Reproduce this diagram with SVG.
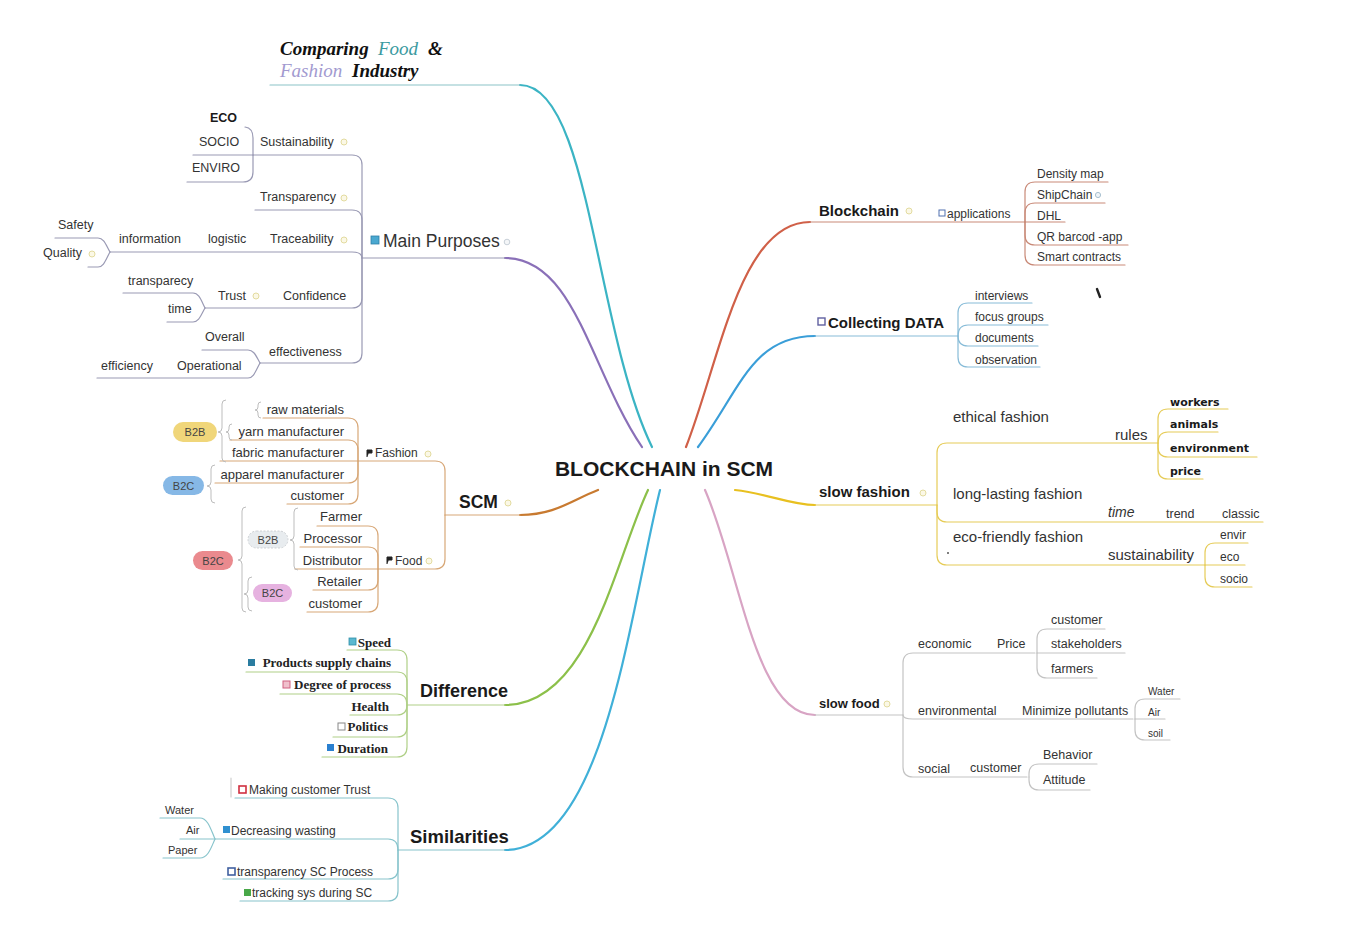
<svg xmlns="http://www.w3.org/2000/svg" width="1347" height="948" viewBox="0 0 1347 948">
  <style>
    .t { font-family: "Liberation Sans", Arial, sans-serif; fill: #333; }
    .b { font-weight: bold; fill: #1a1a1a; }
    .s { font-family: "Liberation Serif", "Times New Roman", serif; font-weight: bold; fill: #222; font-size: 13px; }
    .k { font-family: "DejaVu Sans", Verdana, sans-serif; font-weight: bold; fill: #1a1a1a; font-size: 11px; }
    .ttl { font-family: "Liberation Serif", "Times New Roman", serif; font-style: italic; font-size: 19px; }
    .ln { fill: none; stroke-width: 1.2; stroke-linecap: round; stroke-linejoin: round; }
    .cv { fill: none; stroke-width: 2.2; stroke-linecap: round; }
    .brace { fill: none; stroke: #bdbdbd; stroke-width: 1; }
    .note { fill: #fbf8e6; stroke: #e3dba0; stroke-width: 1; }
    .pill { stroke: none; }
    .pt { font-family: "Liberation Sans", Arial, sans-serif; font-size: 11px; fill: #444; text-anchor: middle; }
  </style>

  <rect width="1347" height="948" fill="#ffffff"/>

  <!-- connectors -->
  <g id="connectors">
    <!-- main branches from the central topic -->
    <g class="cv">
      <path d="M520,85 C590,85 595,330 652,447" stroke="#3bb4c4"/>
      <path d="M505,258 C575,258 590,370 642,447" stroke="#8a70b8"/>
      <path d="M520,515 C555,515 572,500 598,490" stroke="#c87a30"/>
      <path d="M505,705 C590,705 615,560 648,490" stroke="#8cc04a"/>
      <path d="M505,850 C605,850 630,610 660,490" stroke="#40b0d8"/>
      <path d="M686,447 C720,360 740,222 810,222" stroke="#d06048"/>
      <path d="M698,447 C740,390 752,336 815,336" stroke="#3a9ed8"/>
      <path d="M735,490 C770,494 790,505 815,505" stroke="#e8c020"/>
      <path d="M705,490 C740,570 755,715 815,715" stroke="#d8a4c4"/>
    </g>

    <!-- title underline -->
    <path class="ln" d="M270,85 H520" stroke="#8cc4c8"/>

    <!-- Main Purposes -->
    <g class="ln" stroke="#9a9ab4">
      <path d="M362,258 H505"/>
      <path d="M362,258 V165 Q362,155 352,155 H253"/>
      <path d="M362,258 V220 Q362,210 352,210 H255"/>
      <path d="M362,258 Q362,252 352,252 H110"/>
      <path d="M362,258 V298 Q362,308 352,308 H205"/>
      <path d="M362,258 V353 Q362,363 352,363 H260"/>
      <path d="M253,155 V138 Q253,128 245,127"/>
      <path d="M253,155 H193"/>
      <path d="M253,155 V172 Q253,182 243,182 H187"/>
      <path d="M110,252 C106,245 104,238 98,238 H55"/>
      <path d="M110,252 C106,259 104,267 98,267 H88"/>
      <path d="M205,308 C201,300 199,293 193,293 H123"/>
      <path d="M205,308 C201,315 199,322 193,322 H167"/>
      <path d="M260,363 C256,356 254,350 248,350 H202"/>
      <path d="M260,363 C256,370 254,378 248,378 H97"/>
    </g>

    <!-- SCM -->
    <g class="ln" stroke="#d8a878">
      <path d="M445,515 H520"/>
      <path d="M445,515 V471 Q445,461 435,461 H358"/>
      <path d="M445,515 V559 Q445,569 435,569 H378"/>
      <path d="M358,461 V428 Q358,418 348,418 H263"/>
      <path d="M358,461 V450 Q358,440 348,440 H230"/>
      <path d="M358,461 H220"/>
      <path d="M358,461 V473 Q358,483 348,483 H215"/>
      <path d="M358,461 V494 Q358,504 348,504 H287"/>
      <path d="M378,569 V536 Q378,526 368,526 H317"/>
      <path d="M378,569 V557 Q378,547 368,547 H300"/>
      <path d="M378,569 H295"/>
      <path d="M378,569 V580 Q378,590 368,590 H313"/>
      <path d="M378,569 V602 Q378,612 368,612 H307"/>
    </g>

    <!-- Difference -->
    <g class="ln" stroke="#b0d088">
      <path d="M407,705 H505"/>
      <path d="M407,705 V660 Q407,650 397,650 H347"/>
      <path d="M407,705 V682 Q407,672 397,672 H246"/>
      <path d="M407,705 Q407,694 397,694 H280"/>
      <path d="M407,705 Q407,715 397,715 H350"/>
      <path d="M407,705 V727 Q407,737 397,737 H333"/>
      <path d="M407,705 V747 Q407,757 397,757 H322"/>
    </g>

    <!-- Similarities -->
    <g class="ln" stroke="#88c4cc">
      <path d="M398,850 H505"/>
      <path d="M398,850 V808 Q398,798 388,798 H235"/>
      <path d="M398,850 Q398,839 388,839 H180"/>
      <path d="M398,850 V869 Q398,879 388,879 H223"/>
      <path d="M398,850 V891 Q398,901 388,901 H240"/>
      <path d="M215,839 C211,830 208,818 200,818 H160"/>
      <path d="M215,839 C211,848 208,858 200,858 H163"/>
      <path d="M231,778 V797" stroke="#cfcfcf"/>
    </g>

    <!-- Blockchain -->
    <g class="ln" stroke="#c98a78">
      <path d="M810,222 H1025"/>
      <path d="M1025,222 V192 Q1025,182 1035,182 H1108"/>
      <path d="M1025,222 V213 Q1025,203 1035,203 H1105"/>
      <path d="M1025,222 H1065"/>
      <path d="M1025,222 V235 Q1025,245 1035,245 H1128"/>
      <path d="M1025,222 V255 Q1025,265 1035,265 H1125"/>
    </g>

    <!-- Collecting DATA -->
    <g class="ln" stroke="#88bcd8">
      <path d="M815,336 H958"/>
      <path d="M958,336 V313 Q958,303 968,303 H1032"/>
      <path d="M958,336 Q958,325 968,325 H1048"/>
      <path d="M958,336 Q958,346 968,346 H1038"/>
      <path d="M958,336 V357 Q958,367 968,367 H1040"/>
    </g>

    <!-- slow fashion -->
    <g class="ln" stroke="#e6cc58">
      <path d="M815,505 H937"/>
      <path d="M937,505 V453 Q937,443 947,443 H1158"/>
      <path d="M937,505 V512 Q937,522 947,522 H1263"/>
      <path d="M937,505 V555 Q937,565 947,565 H1205"/>
      <path d="M1158,443 V419 Q1158,409 1168,409 H1228"/>
      <path d="M1158,443 Q1158,432 1168,432 H1218"/>
      <path d="M1158,443 V447 Q1158,457 1168,457 H1257"/>
      <path d="M1158,443 V469 Q1158,479 1168,479 H1203"/>
      <path d="M1205,565 V553 Q1205,543 1215,543 H1248"/>
      <path d="M1205,565 H1245"/>
      <path d="M1205,565 V577 Q1205,587 1215,587 H1252"/>
    </g>

    <!-- slow food -->
    <g class="ln" stroke="#c4c4c4">
      <path d="M815,715 H903"/>
      <path d="M903,715 V663 Q903,653 913,653 H1035"/>
      <path d="M903,715 Q903,719 913,719 H1133"/>
      <path d="M903,715 V767 Q903,777 913,777 H1027"/>
      <path d="M1037,653 V639 Q1037,629 1047,629 H1105"/>
      <path d="M1037,653 H1125"/>
      <path d="M1037,653 V668 Q1037,678 1047,678 H1097"/>
      <path d="M1135,719 V709 Q1135,699 1145,699 H1180"/>
      <path d="M1135,719 H1165"/>
      <path d="M1135,719 V730 Q1135,740 1145,740 H1170"/>
      <path d="M1029,777 V774 Q1029,764 1039,764 H1097"/>
      <path d="M1029,777 V780 Q1029,790 1039,790 H1090"/>
    </g>
  </g>

  <!-- central topic -->
  <g id="central">
    <text class="t b" x="664" y="476" font-size="21" text-anchor="middle">BLOCKCHAIN in SCM</text>
  </g>

  <!-- title -->
  <g id="title">
    <text class="ttl" y="55"><tspan x="280" font-weight="bold" fill="#111">Comparing</tspan><tspan x="378" fill="#3a9aa0">Food</tspan><tspan x="428" font-weight="bold" fill="#111">&amp;</tspan></text>
    <text class="ttl" y="77"><tspan x="280" fill="#a29ad0">Fashion</tspan><tspan x="352" font-weight="bold" fill="#111">Industry</tspan></text>
  </g>

  <!-- Main Purposes -->
  <g id="main-purposes">
    <rect x="371" y="236" width="8" height="8" fill="#4aa8d0" stroke="#2f7fa8" stroke-width="0.8"/>
    <text class="t" x="383" y="247" font-size="17.5" fill="#2a2a2a">Main Purposes</text>
    <circle cx="507" cy="242" r="2.8" fill="#f4f6f8" stroke="#c8d0d8"/>
    <g font-size="12.5">
      <text class="t b" x="210" y="122">ECO</text>
      <text class="t" x="199" y="146">SOCIO</text>
      <text class="t" x="192" y="172">ENVIRO</text>
      <text class="t" x="260" y="146">Sustainability</text>
      <text class="t" x="260" y="201">Transparency</text>
      <text class="t" x="270" y="243">Traceability</text>
      <text class="t" x="208" y="243">logistic</text>
      <text class="t" x="119" y="243">information</text>
      <text class="t" x="58" y="229">Safety</text>
      <text class="t" x="43" y="257">Quality</text>
      <text class="t" x="283" y="300">Confidence</text>
      <text class="t" x="218" y="300">Trust</text>
      <text class="t" x="128" y="285">transparecy</text>
      <text class="t" x="168" y="313">time</text>
      <text class="t" x="269" y="356">effectiveness</text>
      <text class="t" x="205" y="341">Overall</text>
      <text class="t" x="177" y="370">Operational</text>
      <text class="t" x="101" y="370">efficiency</text>
    </g>
    <circle class="note" cx="344" cy="142" r="3"/>
    <circle class="note" cx="344" cy="198" r="3"/>
    <circle class="note" cx="344" cy="240" r="3"/>
    <circle class="note" cx="92" cy="254" r="3"/>
    <circle class="note" cx="256" cy="296" r="3"/>
  </g>

  <!-- SCM -->
  <g id="scm">
    <text class="t b" x="459" y="508" font-size="17.5">SCM</text>
    <circle class="note" cx="508" cy="503" r="3"/>

    <path d="M367,457 V450 H372 V453 H369" fill="#222" stroke="#222" stroke-width="1"/>
    <text class="t" x="375" y="457" font-size="12">Fashion</text>
    <circle class="note" cx="428" cy="454" r="3"/>
    <g font-size="13" text-anchor="end">
      <text class="t" x="344" y="414">raw materials</text>
      <text class="t" x="344" y="436">yarn manufacturer</text>
      <text class="t" x="344" y="457">fabric manufacturer</text>
      <text class="t" x="344" y="479">apparel manufacturer</text>
      <text class="t" x="344" y="500">customer</text>
    </g>

    <path d="M387,564 V557 H392 V560 H389" fill="#222" stroke="#222" stroke-width="1"/>
    <text class="t" x="395" y="565" font-size="12" fill="#3d8c96">Food</text>
    <circle class="note" cx="429" cy="561" r="3"/>
    <g font-size="13" text-anchor="end">
      <text class="t" x="362" y="521" fill="#3d8c96">Farmer</text>
      <text class="t" x="362" y="543" fill="#3d8c96">Processor</text>
      <text class="t" x="362" y="565" fill="#3d8c96">Distributor</text>
      <text class="t" x="362" y="586" fill="#3d8c96">Retailer</text>
      <text class="t" x="362" y="608" fill="#3d8c96">customer</text>
    </g>

    <!-- grouping braces -->
    <path class="brace" d="M226,400 Q222,400 222,404 V428 Q222,432 218,432 Q222,432 222,436 V458 Q222,462 226,462"/>
    <path class="brace" d="M232,424 Q229,424 229,427 V429 Q229,432 226,432 Q229,432 229,435 V437 Q229,440 232,440"/>
    <path class="brace" d="M261,402 Q258,402 258,405 V407 Q258,410 255,410 Q258,410 258,413 V415 Q258,418 261,418"/>
    <path class="brace" d="M215,465 Q211,465 211,469 V482 Q211,486 207,486 Q211,486 211,490 V499 Q211,503 215,503"/>
    <path class="brace" d="M246,507 Q242,507 242,511 V556 Q242,560 238,560 Q242,560 242,564 V608 Q242,612 246,612"/>
    <path class="brace" d="M298,508 Q294,508 294,512 V536 Q294,540 290,540 Q294,540 294,544 V566 Q294,570 298,570"/>
    <path class="brace" d="M252,577 Q248,577 248,581 V590 Q248,594 244,594 Q248,594 248,598 V607 Q248,611 252,611"/>

    <!-- B2B / B2C tags -->
    <rect class="pill" x="173" y="422" width="44" height="20" rx="10" fill="#f0d67a"/>
    <text class="pt" x="195" y="436">B2B</text>
    <rect class="pill" x="163" y="476" width="41" height="19" rx="9.5" fill="#86b8e6"/>
    <text class="pt" x="183.5" y="490">B2C</text>
    <rect class="pill" x="193" y="551" width="40" height="19" rx="9.5" fill="#ea8a8e"/>
    <text class="pt" x="213" y="565">B2C</text>
    <rect x="248" y="531" width="40" height="17" rx="8.5" fill="#e8ecef" stroke="#c4c8cc" stroke-width="0.8" stroke-dasharray="2 1.5"/>
    <text class="pt" x="268" y="544">B2B</text>
    <rect class="pill" x="253" y="584" width="39" height="18" rx="9" fill="#e6b2e0"/>
    <text class="pt" x="272.5" y="597">B2C</text>
  </g>

  <!-- Difference -->
  <g id="difference">
    <text class="t b" x="420" y="697" font-size="18">Difference</text>
    <g text-anchor="end">
      <text class="s" x="391" y="647">Speed</text>
      <text class="s" x="391" y="667">Products supply chains</text>
      <text class="s" x="391" y="689">Degree of process</text>
      <text class="s" x="389" y="711">Health</text>
      <text class="s" x="388" y="731">Politics</text>
      <text class="s" x="388" y="753">Duration</text>
    </g>
    <rect x="349" y="638" width="7" height="7" fill="#5ab8d0" stroke="#2f8fa8" stroke-width="0.8"/>
    <rect x="248" y="659" width="7" height="7" fill="#2a7ca0"/>
    <rect x="283" y="681" width="7" height="7" fill="#f0c0cc" stroke="#d06080" stroke-width="1"/>
    <rect x="338" y="723" width="7" height="7" fill="#ffffff" stroke="#888" stroke-width="1"/>
    <rect x="327" y="744" width="7" height="7" fill="#2a80d0"/>
  </g>

  <!-- Similarities -->
  <g id="similarities">
    <text class="t b" x="410" y="843" font-size="18.5">Similarities</text>
    <g font-size="12">
      <text class="t" x="249" y="794">Making customer Trust</text>
      <text class="t" x="231" y="835">Decreasing wasting</text>
      <text class="t" x="237" y="876">transparency SC Process</text>
      <text class="t" x="252" y="897">tracking sys during SC</text>
    </g>
    <g font-size="11">
      <text class="t" x="165" y="814">Water</text>
      <text class="t" x="186" y="834">Air</text>
      <text class="t" x="168" y="854">Paper</text>
    </g>
    <rect x="239" y="786" width="7" height="7" fill="#ffffff" stroke="#d03040" stroke-width="1.6"/>
    <rect x="223" y="826" width="7" height="7" fill="#3090d0"/>
    <rect x="228" y="868" width="7" height="7" fill="#ffffff" stroke="#4060a0" stroke-width="1.6"/>
    <rect x="244" y="889" width="7" height="7" fill="#48a848"/>
  </g>

  <!-- Blockchain -->
  <g id="blockchain">
    <text class="t b" x="819" y="216" font-size="15">Blockchain</text>
    <circle class="note" cx="909" cy="211" r="3"/>
    <rect x="939" y="210" width="6" height="6" fill="#ffffff" stroke="#5070b0" stroke-width="1"/>
    <text class="t" x="947" y="218" font-size="12">applications</text>
    <g font-size="12">
      <text class="t" x="1037" y="178">Density map</text>
      <text class="t" x="1037" y="199">ShipChain</text>
      <text class="t" x="1037" y="220">DHL</text>
      <text class="t" x="1037" y="241">QR barcod -app</text>
      <text class="t" x="1037" y="261">Smart contracts</text>
    </g>
    <circle cx="1098" cy="195" r="2.6" fill="#eef4f8" stroke="#a8c0d0"/>
  </g>

  <!-- Collecting DATA -->
  <g id="collecting-data">
    <rect x="818" y="318" width="7" height="7" fill="#ffffff" stroke="#6060a0" stroke-width="1.4"/>
    <text class="t b" x="828" y="328" font-size="15">Collecting DATA</text>
    <g font-size="12">
      <text class="t" x="975" y="300">interviews</text>
      <text class="t" x="975" y="321">focus groups</text>
      <text class="t" x="975" y="342">documents</text>
      <text class="t" x="975" y="364">observation</text>
    </g>
  </g>

  <!-- slow fashion -->
  <g id="slow-fashion">
    <text class="t b" x="819" y="497" font-size="15">slow fashion</text>
    <circle class="note" cx="923" cy="493" r="3"/>
    <g font-size="15">
      <text class="t" x="953" y="422">ethical fashion</text>
      <text class="t" x="1115" y="440">rules</text>
      <text class="t" x="953" y="499">long-lasting fashion</text>
      <text class="t" x="953" y="542">eco-friendly fashion</text>
      <text class="t" x="1108" y="560">sustainability</text>
    </g>
    <text class="k" x="1170" y="406">workers</text>
    <text class="k" x="1170" y="428">animals</text>
    <text class="k" x="1170" y="452">environment</text>
    <text class="k" x="1170" y="475">price</text>
    <text class="t" x="1108" y="517" font-size="14" font-style="italic">time</text>
    <text class="t" x="1166" y="518" font-size="12.5">trend</text>
    <text class="t" x="1222" y="518" font-size="12.5">classic</text>
    <g font-size="12">
      <text class="t" x="1220" y="539">envir</text>
      <text class="t" x="1220" y="561">eco</text>
      <text class="t" x="1220" y="583">socio</text>
    </g>
    <circle cx="948" cy="553" r="1" fill="#555"/>
  </g>

  <!-- slow food -->
  <g id="slow-food">
    <text class="t b" x="819" y="708" font-size="13">slow food</text>
    <circle class="note" cx="887" cy="704" r="3"/>
    <g font-size="12.5">
      <text class="t" x="918" y="648">economic</text>
      <text class="t" x="997" y="648">Price</text>
      <text class="t" x="1051" y="624">customer</text>
      <text class="t" x="1051" y="648">stakeholders</text>
      <text class="t" x="1051" y="673">farmers</text>
      <text class="t" x="918" y="715">environmental</text>
      <text class="t" x="1022" y="715">Minimize pollutants</text>
      <text class="t" x="918" y="773">social</text>
      <text class="t" x="970" y="772">customer</text>
      <text class="t" x="1043" y="759">Behavior</text>
      <text class="t" x="1043" y="784">Attitude</text>
    </g>
    <g font-size="10">
      <text class="t" x="1148" y="695">Water</text>
      <text class="t" x="1148" y="716">Air</text>
      <text class="t" x="1148" y="737">soil</text>
    </g>
  </g>

  <!-- pen mark -->
  <path d="M1097,289 L1100,297" stroke="#222" stroke-width="2.4" stroke-linecap="round"/>
</svg>
